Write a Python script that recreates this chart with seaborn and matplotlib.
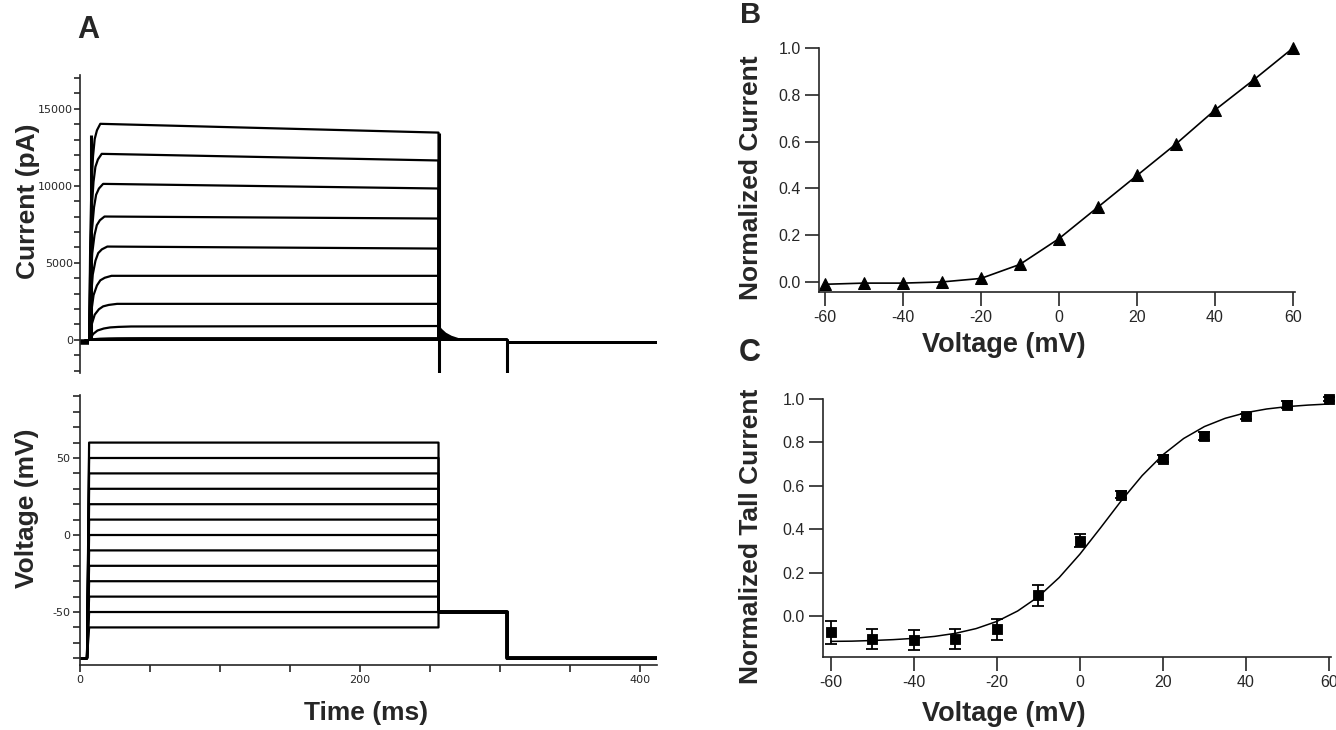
import matplotlib
matplotlib.use("Agg")
import numpy as np
import pandas as pd
import matplotlib.pyplot as plt
import seaborn as sns
from matplotlib.ticker import MultipleLocator, FormatStrFormatter

# ---- panel A: voltage protocol and current traces ----
volt_levels = [-60, -50, -40, -30, -20, -10, 0, 10, 20, 30, 40, 50, 60]
hold_mv = -80
tail_mv = -50
t_on = 5.0        # step start (ms)
t_off = 256.0     # end of test pulse
t_tail_end = 305.0
t_end = 412.0

# plateau current at start / end of the pulse (pA), one per voltage level
i_start = [0, 0, 0, 0, 110, 870, 2340, 4160, 6060, 8010, 10130, 12080, 14030]
i_end = [0, 0, 0, 0, 110, 900, 2340, 4160, 5930, 7880, 9830, 11650, 13460]
rise_ms = [1, 1, 1, 1, 40, 30, 20, 16, 13, 11, 10, 9, 8]
# shape of activation (fraction of rise time / of plateau)
rise_x = [0, 0.1, 0.2, 0.35, 0.5, 0.7, 1.0]
rise_y = [0, 0.45, 0.7, 0.85, 0.93, 0.97, 1.0]
base_pa = -150

# capacitive transients
trans_t = [7.5, 256, 305]
trans_top = [13300, 13460, 0]
trans_bot = [0, -2600, -2600]

# tail current envelope after the pulse
tail_t = [256, 258, 261, 265, 270, 276, 282]
tail_i = [1000, 750, 500, 300, 150, 60, 0]

# ---- panel B: normalized current ----
b_v = [-60, -50, -40, -30, -20, -10, 0, 10, 20, 30, 40, 50, 60]
b_i = [-0.01, -0.005, -0.005, 0.0, 0.015, 0.075, 0.185, 0.32, 0.455, 0.59, 0.735, 0.865, 1.0]

# ---- panel C: normalized tail current ----
c_v = [-60, -50, -40, -30, -20, -10, 0, 10, 20, 30, 40, 50, 60]
c_i = [-0.074, -0.104, -0.109, -0.104, -0.061, 0.095, 0.346, 0.559, 0.725, 0.830, 0.920, 0.974, 1.0]
c_err = [0.053, 0.046, 0.046, 0.046, 0.048, 0.048, 0.03, 0.015, 0.015, 0.02, 0.01, 0.015, 0.01]
fit_v = [-60, -55, -50, -45, -40, -35, -30, -25, -20, -15, -10, -5, 0,
         5, 10, 15, 20, 25, 30, 35, 40, 45, 50, 55, 60]
fit_i = [-0.117, -0.116, -0.113, -0.109, -0.103, -0.094, -0.080, -0.058, -0.025,
         0.023, 0.089, 0.177, 0.285, 0.407, 0.532, 0.647, 0.743, 0.818, 0.873,
         0.911, 0.937, 0.954, 0.965, 0.972, 0.977]

sns.set_theme(style="ticks")
plt.rcParams["font.family"] = ["Liberation Sans", "DejaVu Sans"]
plt.rcParams["axes.linewidth"] = 1.2
plt.rcParams["axes.unicode_minus"] = False

W, H = 1336, 730
fig = plt.figure(figsize=(W / 100, H / 100), dpi=100)


def box(l, t, r, b):
    return [l / W, 1 - b / H, (r - l) / W, (b - t) / H]


ax_i = fig.add_axes(box(80, 75, 657, 373))
ax_v = fig.add_axes(box(80, 395, 657, 665))
ax_b = fig.add_axes(box(819, 48, 1295, 292))
ax_c = fig.add_axes(box(823, 399, 1331, 657))

# current traces
rows = []
for k, v in enumerate(volt_levels):
    ts = [0, t_on + 1.5] + [t_on + 1.5 + rise_ms[k] * f for f in rise_x[1:]]
    ys = [base_pa, 0] + [i_start[k] * f for f in rise_y[1:]]
    ts += [t_off, t_off, t_tail_end, t_tail_end, t_end]
    ys += [i_end[k], 0, 0, base_pa, base_pa]
    for t, y in zip(ts, ys):
        rows.append({"trace": k, "t": t, "i": y})
df_i = pd.DataFrame(rows)
sns.lineplot(data=df_i, x="t", y="i", units="trace", estimator=None, sort=False,
             color="black", lw=1.6, ax=ax_i)
ax_i.vlines(trans_t, trans_bot, trans_top, color="black", lw=2.2)
ax_i.fill_between(tail_t, 0, tail_i, color="black", lw=0)
ax_i.plot([0, t_on + 1.5], [base_pa, base_pa], color="black", lw=4, solid_capstyle="butt")

ax_i.set_xlim(0, t_end)
ax_i.set_ylim(-2150, 17200)
for s in ["top", "right", "bottom"]:
    ax_i.spines[s].set_visible(False)
ax_i.set_xticks([])
ax_i.yaxis.set_minor_locator(MultipleLocator(1000))
ax_i.set_yticks([0, 5000, 10000, 15000])
ax_i.tick_params(axis="y", which="both", direction="out", length=4, width=1.2,
                 labelsize=8, pad=1, labelfontfamily="Liberation Sans Narrow")

# voltage protocol
rows = []
for k, v in enumerate(volt_levels):
    ts = [0, t_on, t_on + 1.5, t_off, t_off, t_tail_end, t_tail_end, t_end]
    ys = [hold_mv, hold_mv, v, v, tail_mv, tail_mv, hold_mv, hold_mv]
    for t, y in zip(ts, ys):
        rows.append({"trace": k, "t": t, "v": y})
df_v = pd.DataFrame(rows)
sns.lineplot(data=df_v, x="t", y="v", units="trace", estimator=None, sort=False,
             color="black", lw=1.6, ax=ax_v)
ax_v.plot([t_off, t_tail_end, t_tail_end, t_end], [tail_mv, tail_mv, hold_mv, hold_mv],
          color="black", lw=2.8)

ax_v.set_xlim(0, t_end)
ax_v.set_ylim(-84.4, 90.9)
for s in ["top", "right"]:
    ax_v.spines[s].set_visible(False)
ax_v.set_yticks([-50, 0, 50])
ax_v.yaxis.set_minor_locator(MultipleLocator(10))
ax_v.set_xticks([0, 200, 400])
ax_v.xaxis.set_minor_locator(MultipleLocator(50))
ax_v.tick_params(which="both", direction="out", length=5, width=1.2,
                 labelsize=8, pad=2, labelfontfamily="Liberation Sans Narrow")
ax_v.set_xlabel("")
ax_i.set_xlabel("")
ax_i.set_ylabel("")
ax_v.set_ylabel("")

# panel B
sns.lineplot(x=b_v, y=b_i, color="black", lw=1.2, marker="^", markersize=8,
             markeredgecolor="black", clip_on=False, ax=ax_b)
ax_b.set_xlim(-61.5, 60.5)
ax_b.set_ylim(-0.043, 1.0)
ax_b.set_xticks([-60, -40, -20, 0, 20, 40, 60])
ax_b.set_yticks([0.0, 0.2, 0.4, 0.6, 0.8, 1.0])
ax_b.yaxis.set_major_formatter(FormatStrFormatter("%.1f"))
sns.despine(ax=ax_b)
ax_b.tick_params(direction="out", length=10, width=1.2, labelsize=11.5, pad=3)

# panel C
ax_c.errorbar(c_v, c_i, yerr=c_err, fmt="none", ecolor="black", elinewidth=1.3,
              capsize=4, capthick=1.3, clip_on=False)
sns.lineplot(x=fit_v, y=fit_i, color="black", lw=1.1, ax=ax_c)
sns.scatterplot(x=c_v, y=c_i, marker="s", s=60, color="black", edgecolor="black",
                zorder=3, clip_on=False, ax=ax_c)
ax_c.set_xlim(-61.9, 60.5)
ax_c.set_ylim(-0.189, 1.0)
ax_c.set_xticks([-60, -40, -20, 0, 20, 40, 60])
ax_c.set_yticks([0.0, 0.2, 0.4, 0.6, 0.8, 1.0])
ax_c.yaxis.set_major_formatter(FormatStrFormatter("%.1f"))
sns.despine(ax=ax_c)
ax_c.tick_params(direction="out", length=10, width=1.2, labelsize=11.5, pad=3)

# labels, placed in figure pixels
def ftext(x, y, s, size=19, rot=0):
    fig.text(x / W, 1 - y / H, s, fontsize=size, fontweight="bold", rotation=rot,
             ha="center", va="center")


ftext(88, 30, "A", 22)
ftext(751, 15, "B", 21)
ftext(750, 353, "C", 22)
ftext(28, 201, "Current (pA)", 19, 90)
ftext(27, 508, "Voltage (mV)", 19, 90)
ftext(366, 713, "Time (ms)", 19)
ftext(751, 178, "Normalized Current", 19, 90)
ftext(1004, 345, "Voltage (mV)", 19.5)
ftext(751, 536, "Normalized Tall Current", 19, 90)
ftext(1004, 714, "Voltage (mV)", 19.5)

fig.savefig("out.png", dpi=100)
